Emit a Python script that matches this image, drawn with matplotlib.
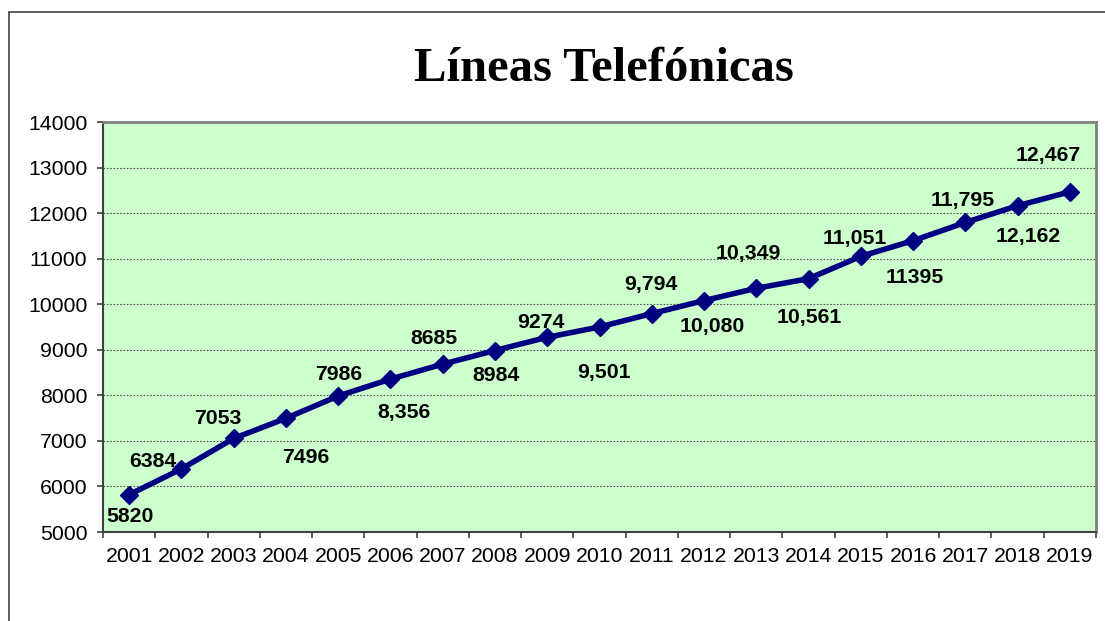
import matplotlib
matplotlib.use('Agg')
import matplotlib.pyplot as plt
from matplotlib.patches import Rectangle

# data
years = [str(y) for y in range(2001, 2020)]
lines = [5820, 6384, 7053, 7496, 7986, 8356, 8685, 8984, 9274, 9501,
         9794, 10080, 10349, 10561, 11051, 11395, 11795, 12162, 12467]
labels = ['5820', '6384', '7053', '7496', '7986', '8,356', '8685', '8984', '9274', '9,501',
          '9,794', '10,080', '10,349', '10,561', '11,051', '11395', '11,795', '12,162', '12,467']

# label offsets (pixels) from each point
offsets = [(1, -22), (-29, 7), (-16, 20), (20, -39), (1, 21), (14, -33), (-9, 26),
           (1, -25), (-6, 15), (5, -46), (-1, 29), (8, -26), (-8, 35), (1, -39),
           (-6, 18), (2, -37), (-3, 22), (11, -31), (-22, 36)]

plt.rcParams['font.family'] = ['Liberation Sans', 'DejaVu Sans']

fig = plt.figure(figsize=(11.05, 6.21), dpi=100)
fig.patches.append(Rectangle((9/1105, -0.5), 2, (621-12)/621 + 0.5, transform=fig.transFigure,
                             fill=False, edgecolor='#404040', lw=1.2))

ax = fig.add_axes([103/1105, (621-532)/621, 993/1105, 410/621])
ax.set_facecolor('#CCFFCC')

x = list(range(len(years)))
ax.plot(x, lines, color='#000080', lw=4, marker='D', markersize=9, zorder=3)

for i, (v, s) in enumerate(zip(lines, labels)):
    ax.annotate(s, (x[i], v), xytext=offsets[i], textcoords='offset pixels',
                ha='center', va='center', fontsize=15.3, fontweight='bold', zorder=4)

ax.set_xlim(-0.5, len(years) - 0.5)
ax.set_ylim(5000, 14000)
ax.set_yticks(range(5000, 14001, 1000))
ax.set_xticks([i - 0.5 for i in range(len(years) + 1)])
ax.set_xticklabels([])
ax.set_xticks(x, minor=True)
ax.set_xticklabels(years, minor=True)
ax.tick_params(axis='x', which='major', length=4.3, width=1.2, direction='out', color='#404040')
ax.tick_params(axis='x', which='minor', length=0, pad=11, labelsize=15.3)
ax.tick_params(axis='y', length=4.3, width=1.2, direction='out', pad=7, labelsize=15.3, color='#404040')
ax.yaxis.grid(True, linestyle=(0, (1.5, 1.5)), color='#505050', lw=0.8)
ax.set_axisbelow(True)
for sp in ['top', 'right']:
    ax.spines[sp].set_color('#808080')
    ax.spines[sp].set_linewidth(2)
for sp in ['left', 'bottom']:
    ax.spines[sp].set_color('#404040')
    ax.spines[sp].set_linewidth(1.5)

fig.text(604/1105, 1 - 69/621, 'Líneas Telefónicas', ha='center', va='center',
         fontsize=35, fontweight='bold', family=['Liberation Serif', 'DejaVu Serif'])

fig.savefig('out.png', dpi=100)
